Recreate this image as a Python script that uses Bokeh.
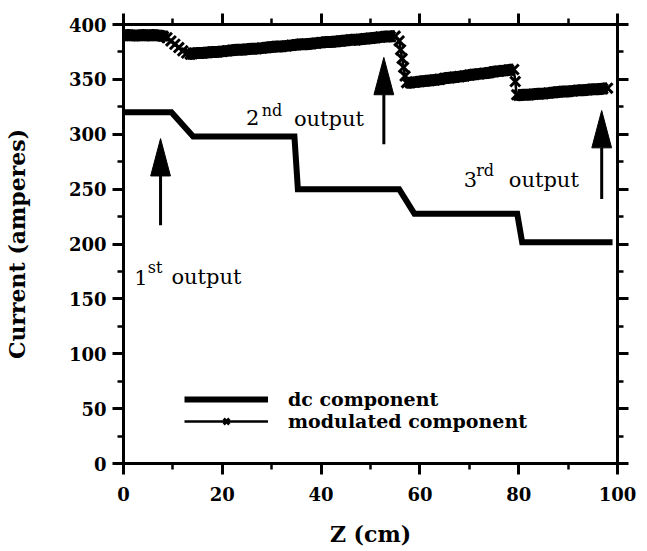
import math
from bokeh.plotting import figure
from bokeh.models import (Range1d, LinearAxis, FixedTicker, CustomJSTickFormatter,
                          Legend, LegendItem)
from bokeh.core.properties import value
from bokeh.embed import file_html
from bokeh.resources import INLINE

# ---------------- data ----------------
dc_z = [0, 9.7, 14.1, 34.6, 35.3, 55.8, 58.9, 79.7, 80.7, 99.0]
dc_current = [320, 320, 298, 298, 250, 250, 227.5, 227.5, 201.5, 201.5]

mod_z = [0, 1, 2, 3, 4, 5, 6, 7, 8,
         8.8, 9.6, 10.4, 11.2, 12.0, 12.8,
         13.5, 14, 15, 16, 17, 18, 19, 20, 21, 22, 23, 24, 25, 26, 27, 28, 29, 30,
         31, 32, 33, 34, 35, 36, 37, 38, 39, 40, 41, 42, 43, 44, 45, 46, 47, 48,
         49, 50, 51, 52, 53, 54, 55,
         55.8, 56.1, 56.4, 56.7, 57.0, 57.3,
         58, 59, 60, 61, 62, 63, 64, 65, 66, 67, 68, 69, 70, 71, 72, 73, 74, 75,
         76, 77, 78, 79,
         79.3, 79.6,
         80, 81, 82, 83, 84, 85, 86, 87, 88, 89, 90, 91, 92, 93, 94, 95, 96, 97, 98]
mod_current = [390, 390.5, 390, 390, 390.5, 390, 390.5, 390, 389.5,
               388, 385, 382, 379, 376, 374,
               373, 373.5, 374, 374, 374.5, 375, 375, 375.5, 376, 376.5, 377, 377, 377.5,
               378, 378, 378.5, 379, 379.5,
               380, 380, 380.5, 381, 381.5, 382, 382, 382.5, 383, 383.5, 384, 384, 384.5,
               385, 385.5, 386, 386, 386.5,
               387, 387.5, 388, 388.5, 389, 389, 389.5,
               385, 377, 369, 361, 353, 347,
               347, 347.5, 348, 348.5, 349, 349.5, 350, 351, 351.5, 352, 352.5, 353, 354,
               354.5, 355, 355.5, 356, 357, 357.5, 358, 358.5, 359,
               348, 336,
               335.5, 336, 336, 336.5, 337, 337, 337.5, 338, 338.5, 339, 339, 339.5, 340,
               340, 340.5, 341, 341, 341.5, 342]

x_major = [0, 20, 40, 60, 80, 100]
x_minor = [0, 10, 20, 30, 40, 50, 60, 70, 80, 90, 100]
y_major = [0, 50, 100, 150, 200, 250, 300, 350, 400]
y_minor = [0, 25, 50, 75, 100, 125, 150, 175, 200, 225, 250, 275, 300, 325, 350, 375, 400]

# annotation arrows (z position, tail current, tip current)
arrow_z = [7.5, 52.7, 96.8]
arrow_tail = [217, 291, 241]
arrow_tip = [296, 370, 321.6]
head_len = 34      # in amperes
head_half = 2.0    # in cm

# annotation text
num_text = ["1", "2", "3"]
num_z = [2.2, 24.8, 68.9]
num_y = [169.5, 315.5, 258.8]
sup_text = ["st", "nd", "rd"]
sup_z = [4.9, 28.0, 71.4]
sup_y = [178.5, 322, 267]
out_text = ["output", "output", "output"]
out_z = [9.7, 34.5, 78.0]
out_y = [169.5, 314, 258]

SERIF = "DejaVu Serif"

p = figure(width=647, height=551, x_range=Range1d(0, 100), y_range=Range1d(0, 400),
           output_backend="svg", toolbar_location=None,
           min_border_left=122, min_border_right=30, min_border_top=24, min_border_bottom=88)
p.outline_line_color = None
p.grid.visible = False
p.background_fill_color = "white"
p.border_fill_color = "white"


def style_axis(ax):
    ax.axis_line_width = 3
    ax.axis_line_color = "black"
    ax.major_tick_line_width = 3
    ax.minor_tick_line_width = 2.5
    ax.major_tick_line_color = "black"
    ax.minor_tick_line_color = "black"
    ax.major_tick_out = 11
    ax.major_tick_in = 0
    ax.minor_tick_out = 6
    ax.minor_tick_in = 0
    ax.major_label_text_font = SERIF
    ax.major_label_text_font_style = "bold"
    ax.major_label_text_font_size = "18px"
    ax.major_label_text_color = "black"
    ax.axis_label_text_font = SERIF
    ax.axis_label_text_font_style = "bold"
    ax.axis_label_text_font_size = "22px"
    ax.axis_label_text_color = "black"


xa = p.xaxis[0]
xa.ticker = FixedTicker(ticks=x_major, minor_ticks=x_minor)
style_axis(xa)
xa.axis_label = "Z (cm)"
xa.major_label_standoff = 12
xa.axis_label_standoff = 17

ya = p.yaxis[0]
ya.ticker = FixedTicker(ticks=y_major, minor_ticks=y_minor)
style_axis(ya)
ya.axis_label = "Current (amperes)"
ya.major_label_standoff = 6
ya.axis_label_standoff = 36

blank = CustomJSTickFormatter(code="return '';")
top = LinearAxis(ticker=FixedTicker(ticks=x_major, minor_ticks=x_minor), formatter=blank)
style_axis(top)
top.major_label_text_font_size = "0px"
top.major_label_standoff = 0
p.add_layout(top, "above")

right = LinearAxis(ticker=FixedTicker(ticks=y_major, minor_ticks=y_minor), formatter=blank)
style_axis(right)
right.major_label_text_font_size = "0px"
right.major_label_standoff = 0
p.add_layout(right, "right")

# dc component
dc_r = p.line(dc_z, dc_current, line_width=6, line_color="black", line_join="miter")

# modulated component: thick band on the gently sloping parts
steep = []
for i in range(len(mod_z) - 1):
    s = abs(mod_current[i + 1] - mod_current[i]) / (mod_z[i + 1] - mod_z[i])
    steep.append(s > 2)
band_y = []
for i in range(len(mod_z)):
    left_steep = steep[i - 1] if i > 0 else True
    right_steep = steep[i] if i < len(steep) else True
    band_y.append(float("nan") if (left_steep and right_steep) else mod_current[i])
p.line(mod_z, band_y, line_width=12, line_color="black")
mod_line = p.line(mod_z, mod_current, line_width=2.5, line_color="black")
mod_pts = p.scatter(mod_z, mod_current, marker="x", size=14, line_width=3, line_color="black")

# arrows
p.segment(x0=arrow_z, y0=arrow_tail, x1=arrow_z,
          y1=[t - head_len for t in arrow_tip], line_width=3, line_color="black")
p.patches(xs=[[z - head_half, z, z + head_half] for z in arrow_z],
          ys=[[t - head_len, t, t - head_len] for t in arrow_tip],
          fill_color="black", line_color="black", line_width=1)

# annotation texts
p.text(x=num_z, y=num_y, text=num_text, text_font=value(SERIF), text_font_size="21px",
       text_baseline="alphabetic", text_align="left", text_color="black")
p.text(x=sup_z, y=sup_y, text=sup_text, text_font=value(SERIF), text_font_size="16px",
       text_baseline="alphabetic", text_align="left", text_color="black")
p.text(x=out_z, y=out_y, text=out_text, text_font=value(SERIF), text_font_size="21px",
       text_baseline="alphabetic", text_align="left", text_color="black")

legend = Legend(items=[LegendItem(label="dc component", renderers=[dc_r]),
                       LegendItem(label="modulated component", renderers=[mod_line, mod_pts])],
                location=(61, 31), padding=0, margin=0, spacing=0,
                glyph_width=84, glyph_height=20, label_height=20, label_standoff=20,
                border_line_color=None, background_fill_alpha=0,
                label_text_font=SERIF, label_text_font_style="bold",
                label_text_font_size="19px", label_text_color="black")
p.add_layout(legend)

open("out.html", "w").write(file_html(p, INLINE))
